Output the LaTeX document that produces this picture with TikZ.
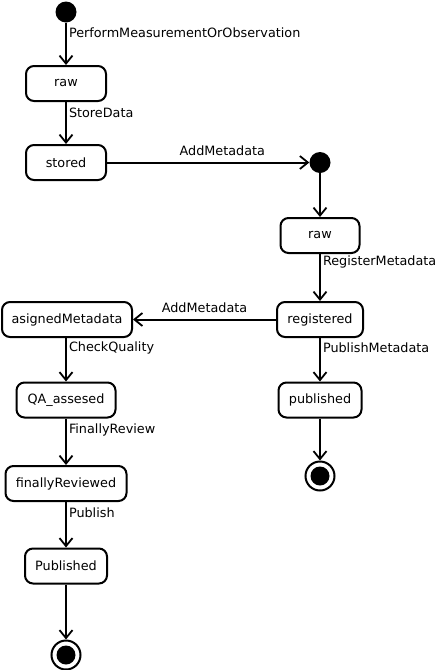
\documentclass[tikz,border=0pt]{standalone}
\usepackage{fontspec}
\setmainfont{DejaVu Sans}
\usetikzlibrary{arrows.meta}
\begin{document}
\begin{tikzpicture}[x=1pt,y=-1pt,
 state/.style={draw,line width=2pt,rounded corners=8pt,minimum height=35pt,inner sep=0pt,font=\fontsize{12.8}{15}\selectfont},
 initialst/.style={circle,fill,minimum size=21pt,inner sep=0pt},
 finalst/.style={circle,draw,line width=2pt,minimum size=29pt,inner sep=0pt,
   path picture={\fill (path picture bounding box.center) circle (9.5pt);}},
 tr/.style={line width=2pt,-{Straight Barb[length=8pt,width=13pt,line width=1.8pt]}},
 lbl/.style={font=\fontsize{12.8}{15}\selectfont,inner sep=2pt}]
\useasboundingbox (0,0) rectangle (437,670);
% left column
\node[initialst] (s1) at (66,12) {};
\node[state,minimum width=80pt] (raw1) at (66,83.5) {raw};
\node[state,minimum width=80pt] (stored) at (66,162.5) {stored};
% right column
\node[initialst] (s2) at (320,162.5) {};
\node[state,minimum width=79pt] (raw2) at (320,235.5) {raw};
\node[state,minimum width=86pt] (registered) at (320,319.5) {registered};
\node[state,minimum width=83pt] (published) at (320,400) {published};
\node[finalst] (e2) at (320,476) {};
% lower left
\node[state,minimum width=130pt] (asg) at (67,319.5) {asignedMetadata};
\node[state,minimum width=99pt] (qa) at (66,400) {QA\_assesed};
\node[state,minimum width=121pt] (fr) at (66,483.5) {finallyReviewed};
\node[state,minimum width=82pt] (pub) at (66,566) {Published};
\node[finalst] (e1) at (66,655) {};
% transitions
\draw[tr] (s1) -- node[lbl,pos=0.23,anchor=west] {PerformMeasurementOrObservation} (raw1);
\draw[tr] (raw1) -- node[lbl,pos=0.25,anchor=west] {StoreData} (stored);
\draw[tr] (stored) -- node[lbl,pos=0.57,anchor=south,yshift=3.5pt] {AddMetadata} (s2);
\draw[tr] (s2) -- (raw2);
\draw[tr] (raw2) -- node[lbl,pos=0.16,anchor=west] {RegisterMetadata} (registered);
\draw[tr] (registered) -- node[lbl,pos=0.5,anchor=south,yshift=3.5pt] {AddMetadata} (asg);
\draw[tr] (registered) -- node[lbl,pos=0.22,anchor=west] {PublishMetadata} (published);
\draw[tr] (published) -- (e2);
\draw[tr] (asg.south -| qa) -- node[lbl,pos=0.22,anchor=west] {CheckQuality} (qa);
\draw[tr] (qa) -- node[lbl,pos=0.25,anchor=west] {FinallyReview} (fr);
\draw[tr] (fr) -- node[lbl,pos=0.23,anchor=west] {Publish} (pub);
\draw[tr] (pub) -- (e1);
\end{tikzpicture}
\end{document}
